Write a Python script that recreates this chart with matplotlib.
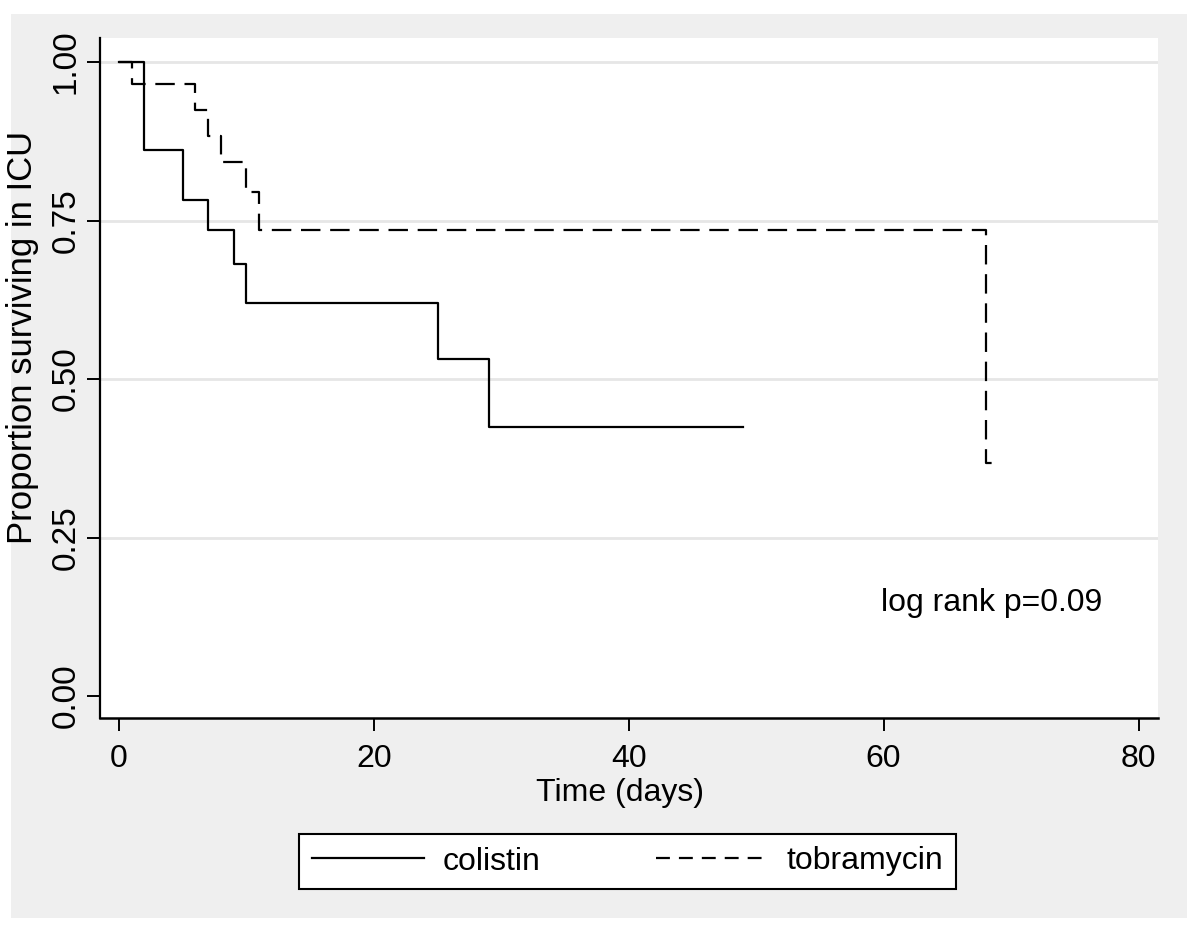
import numpy as np
import matplotlib
matplotlib.use('Agg')
from matplotlib import pyplot as plt
from matplotlib.lines import Line2D
from matplotlib.patches import Rectangle

# Kaplan-Meier step data
colistin_days = [0, 2, 5, 7, 9, 10, 25, 29, 49]
colistin_surv = [1.0, 0.862, 0.782, 0.735, 0.681, 0.620, 0.532, 0.425, 0.425]
tobra_days = [0, 1, 6, 7, 8, 10, 11, 68, 68.7]
tobra_surv = [1.0, 0.966, 0.924, 0.883, 0.842, 0.795, 0.735, 0.367, 0.367]

x_ticks = [0, 20, 40, 60, 80]
y_ticks = [0.0, 0.25, 0.5, 0.75, 1.0]
y_tick_labels = ['0.00', '0.25', '0.50', '0.75', '1.00']
group_labels = ['colistin', 'tobramycin']

plt.rcParams['font.family'] = ['Liberation Sans', 'DejaVu Sans']
plt.rcParams['lines.scale_dashes'] = False
FS = 23

fig = plt.figure(figsize=(12, 9.31), dpi=100, facecolor='white')

# stata-ish grey graph region
fig.patches.append(Rectangle((11 / 1200, 1 - 918 / 931), 1176 / 1200, 904 / 931,
                             transform=fig.transFigure, facecolor='#efefef',
                             edgecolor='none', zorder=-5))

ax = fig.add_axes([100 / 1200, 1 - 718 / 931, 1058 / 1200, 680 / 931])
ax.set_zorder(1)
ax.set_facecolor('white')

for yv in y_ticks[1:]:
    ax.axhline(yv, color='#e6e6e6', lw=2, zorder=1)

ax.plot(colistin_days, colistin_surv, drawstyle='steps-post', color='black',
        lw=1.6, zorder=3)
tob, = ax.plot(tobra_days, tobra_surv, drawstyle='steps-post', color='black',
               lw=1.6, zorder=3)
tob.set_dashes([14, 7])

ax.text(59.8, 0.147, 'log rank p=0.09', fontsize=FS, ha='left', va='center')

ax.set_xlim(-1.49, 81.53)
ax.set_ylim(-0.0347, 1.038)
ax.set_xticks(x_ticks)
ax.set_yticks(y_ticks)
ax.set_yticklabels(y_tick_labels, rotation=90, va='center', fontsize=24)

ax.spines['top'].set_visible(False)
ax.spines['right'].set_visible(False)
ax.spines['left'].set_linewidth(1.6)
ax.spines['bottom'].set_linewidth(1.8)
ax.tick_params(axis='both', direction='out', length=9.5, width=1.4,
               labelsize=FS, colors='black')
ax.tick_params(axis='y', labelsize=24)
ax.tick_params(axis='x', pad=9)
ax.tick_params(axis='y', pad=4)

ax.set_xlabel('Time (days)', fontsize=FS)
ax.xaxis.set_label_coords(0.4915, -0.088)
ax.set_ylabel('Proportion surviving in ICU', fontsize=25)
ax.yaxis.set_label_coords(-0.058, 0.56)

# legend below the plot
h1 = Line2D([], [], color='black', lw=1.6)
h2 = Line2D([], [], color='black', lw=1.6)
h2.set_dashes([10, 6.5])
leg = fig.legend([h1, h2], group_labels, loc='center', ncol=2,
                 bbox_to_anchor=(0.523, 1 - 861.5 / 931), fontsize=FS,
                 frameon=True, fancybox=False, handlelength=3.5,
                 handletextpad=0.6, columnspacing=3.6, borderpad=0.4)
leg.set_zorder(2)
leg.get_frame().set_edgecolor('black')
leg.get_frame().set_linewidth(1.5)
leg.get_frame().set_facecolor('white')
leg.get_frame().set_alpha(1)

fig.savefig('out.png', dpi=100, facecolor='white')
